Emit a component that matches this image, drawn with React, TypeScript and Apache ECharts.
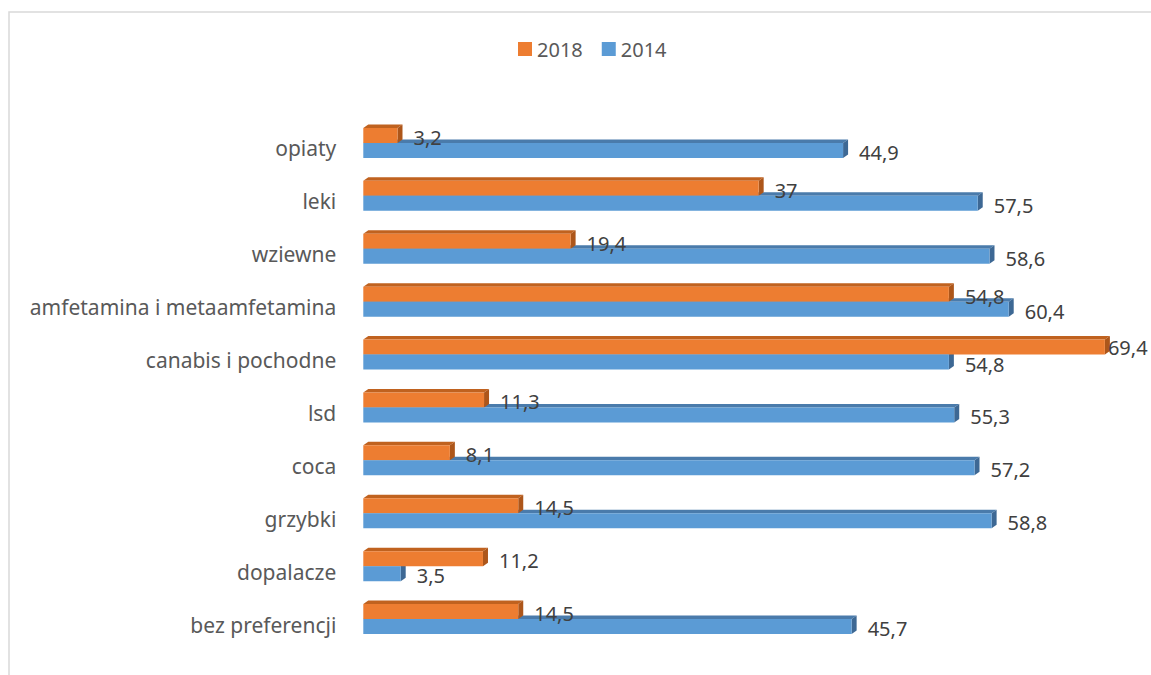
import React, { useEffect, useRef } from "react";
import * as echarts from "echarts";

const categories = [
  "opiaty",
  "leki",
  "wziewne",
  "amfetamina i metaamfetamina",
  "canabis i pochodne",
  "lsd",
  "coca",
  "grzybki",
  "dopalacze",
  "bez preferencji",
];
const values2018 = [3.2, 37, 19.4, 54.8, 69.4, 11.3, 8.1, 14.5, 11.2, 14.5];
const values2014 = [44.9, 57.5, 58.6, 60.4, 54.8, 55.3, 57.2, 58.8, 3.5, 45.7];
const seriesNames = ["2018", "2014"];

const BAR_W = 15;
const DX = 5;
const DY = 3.5;
const FONT = "'Noto Sans', 'Open Sans', sans-serif";

const fmt = (v: number) => String(v).replace(".", ",");

function makeFaces(above: boolean, topColor: string, sideColor: string) {
  return (params: any, api: any) => {
    const v = api.value(0);
    const c = api.value(1);
    const p = api.coord([v, c]);
    const p0 = api.coord([0, c]);
    const yTop = above ? p[1] - BAR_W : p[1];
    const yBot = yTop + BAR_W;
    const x0 = p0[0];
    const x1 = p[0];
    return {
      type: "group",
      children: [
        {
          type: "polygon",
          shape: { points: [[x0, yTop], [x0 + DX, yTop - DY], [x1 + DX, yTop - DY], [x1, yTop]] },
          style: { fill: topColor },
        },
        {
          type: "polygon",
          shape: { points: [[x1, yTop], [x1 + DX, yTop - DY], [x1 + DX, yBot - DY], [x1, yBot]] },
          style: { fill: sideColor },
        },
      ],
    };
  };
}

export default function App() {
  const ref = useRef<HTMLDivElement>(null);
  useEffect(() => {
    document.body.style.margin = "0";
    const chart = echarts.init(ref.current!, undefined, { renderer: "svg" });
    const labelCfg = {
      show: true,
      position: "right",
      distance: 16,
      offset: [0, 2],
      fontSize: 20,
      color: "#404040",
      fontFamily: FONT,
      formatter: (p: any) => fmt(p.value),
    };
    const maxVal = Math.max(...values2018);
    chart.setOption({
      animation: false,
      backgroundColor: "#ffffff",
      graphic: [
        {
          type: "rect",
          shape: { x: 9, y: 12, width: 1200, height: 700 },
          style: { fill: "none", stroke: "#d9d9d9", lineWidth: 1.5 },
          silent: true,
        },
      ],
      legend: {
        data: seriesNames,
        left: 513,
        top: 34,
        itemWidth: 14,
        itemHeight: 14,
        itemGap: 19,
        icon: "rect",
        textStyle: { fontSize: 20, color: "#595959", fontFamily: FONT },
      },
      grid: { left: 363.3, top: 116.5, width: 748, height: 529, containLabel: false },
      xAxis: {
        type: "value",
        min: 0,
        max: 70,
        show: false,
      },
      yAxis: {
        type: "category",
        inverse: true,
        data: categories,
        axisLine: { show: false },
        axisTick: { show: false },
        axisLabel: {
          fontSize: 21,
          color: "#595959",
          fontFamily: FONT,
          margin: 27,
          verticalAlign: "top",
          lineHeight: 11,
        },
      },
      series: [
        {
          type: "custom",
          name: "2014-3d",
          silent: true,
          z: 1,
          renderItem: makeFaces(false, "#4a7bab", "#3d6894"),
          data: values2014.map((v, i) => [v, i]),
          encode: { x: 0, y: 1 },
        },
        {
          type: "custom",
          name: "2018-3d",
          silent: true,
          z: 1,
          renderItem: makeFaces(true, "#c0621f", "#ad561a"),
          data: values2018.map((v, i) => [v, i]),
          encode: { x: 0, y: 1 },
        },
        {
          type: "bar",
          name: seriesNames[0],
          data: values2018.map((v) =>
            v === maxVal ? { value: v, label: { distance: 3, offset: [0, 0] } } : v
          ),
          barWidth: BAR_W,
          barGap: "0%",
          itemStyle: { color: "#ED7D31" },
          label: labelCfg,
          z: 2,
        },
        {
          type: "bar",
          name: seriesNames[1],
          data: values2014,
          barWidth: BAR_W,
          barGap: "0%",
          itemStyle: { color: "#5B9BD5" },
          label: labelCfg,
          z: 2,
        },
      ],
    });
    return () => chart.dispose();
  }, []);
  return <div ref={ref} style={{ width: 1151, height: 675 }} />;
}
